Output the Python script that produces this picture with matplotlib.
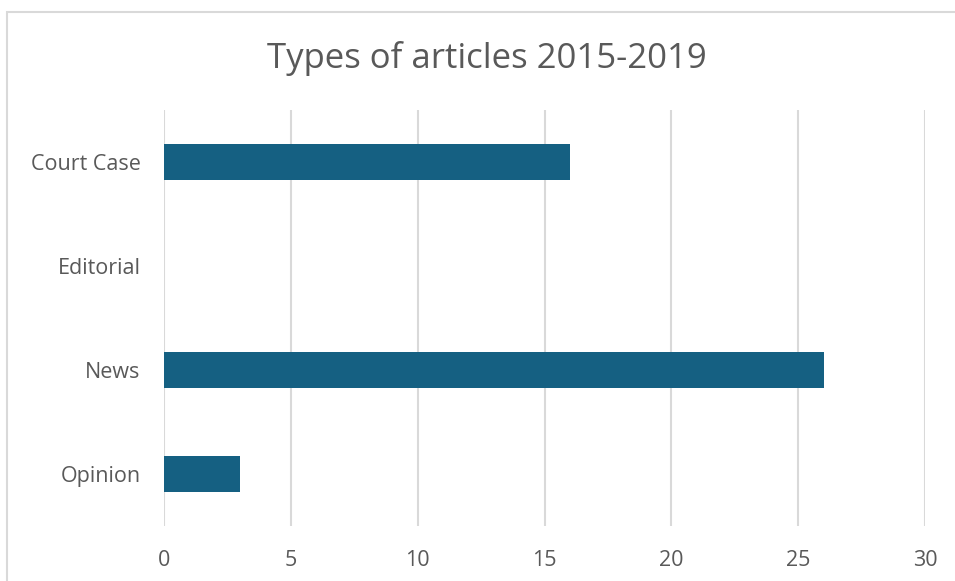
import matplotlib.pyplot as plt
from matplotlib.patches import Rectangle

categories = ["Court Case", "Editorial", "News", "Opinion"]
counts = [16, 0, 26, 3]
x_ticks = [0, 5, 10, 15, 20, 25, 30]
title = "Types of articles 2015-2019"

W, H = 955, 581
BAR = "#156082"
TEXT = "#595959"
GRID = "#d9d9d9"

plt.rcParams["font.family"] = ["Open Sans", "DejaVu Sans"]

fig = plt.figure(figsize=(W / 100, H / 100), dpi=100)

# chart-area frame
fig.patches.append(Rectangle((7 / W, 0 - 0.05), 1.2, (H - 12) / H + 0.05,
                             transform=fig.transFigure, fill=False,
                             edgecolor=GRID, linewidth=1.5))

ax = fig.add_axes([164 / W, 1 - 526 / H, (925 - 164) / W, (526 - 110) / H])
ypos = list(range(len(categories)))
ax.barh(ypos, counts, height=0.35, color=BAR, zorder=3)
ax.set_ylim(len(categories) - 0.5, -0.5)
ax.set_xlim(0, 30)
ax.set_xticks(x_ticks)
ax.set_xticklabels([str(t) for t in x_ticks])
ax.set_yticks(ypos)
ax.set_yticklabels(categories)
ax.grid(axis="x", color=GRID, linewidth=1.5, zorder=0)
for s in ax.spines.values():
    s.set_visible(False)
ax.tick_params(length=0, colors=TEXT, labelsize=15.5)
ax.tick_params(axis="x", pad=17.5)
ax.tick_params(axis="y", pad=17)

fig.text(0.5095, 1 - 58 / H, title, ha="center", va="center",
         fontsize=25, color=TEXT)

fig.savefig("out.png", dpi=100, facecolor="white")
